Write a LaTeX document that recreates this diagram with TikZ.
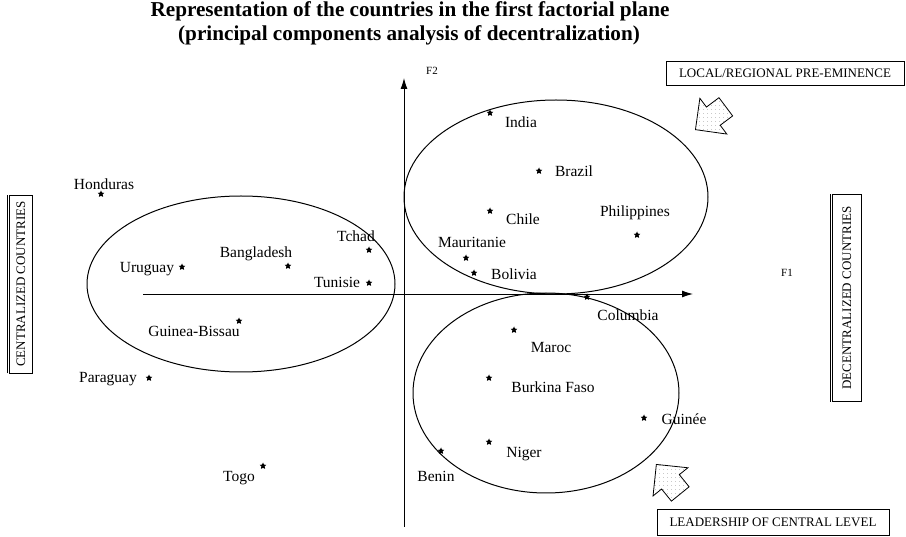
\documentclass[tikz,border=0pt]{standalone}
\usepackage{fontspec}
\setmainfont{Liberation Serif}
\usetikzlibrary{arrows.meta, shapes.geometric, shapes.arrows, patterns.meta}

\begin{document}
\begin{tikzpicture}[x=1pt, y=-1pt, font=\fontsize{15.5}{17}\selectfont,
	ctry/.style={star, star points=5, star point ratio=2, fill=black, inner sep=0pt, minimum size=7pt},
	lbl/.style={anchor=base, inner sep=0pt},
	heading/.style={anchor=base, inner sep=0pt, font=\bfseries\fontsize{21.2}{24}\selectfont},
	caption/.style={draw, line width=.8pt, inner sep=0pt, font=\fontsize{13}{15}\selectfont},
	hollow/.style={single arrow, draw, line width=.8pt, minimum height=38pt, inner xsep=0pt, inner ysep=11pt, single arrow head extend=11pt, pattern={Dots[distance=4pt, radius=.4pt]}, pattern color=gray, anchor=tip},
	cluster/.style={draw, ellipse, line width=1pt, inner sep=0pt}]
	\useasboundingbox (0,0) rectangle (906,537);
	\node[heading] (title) at (410,17) {Representation of the countries in the first factorial plane};
	\node[heading] (subtitle) at (409,41) {(principal components analysis of decentralization)};
	\coordinate (xlo) at (143,294);
	\coordinate (xhi) at (693,294);
	\coordinate (ylo) at (404,527);
	\coordinate (yhi) at (404,78);
	\draw[line width=.9pt, -{Latex[length=11pt, width=7pt]}] (xlo) -- (xhi);
	\draw[line width=.9pt, -{Latex[length=11pt, width=7pt]}] (ylo) -- (yhi);
	\node[lbl, font=\fontsize{11}{13}\selectfont] (f2) at (432,75) {F2};
	\node[lbl, font=\fontsize{11}{13}\selectfont] (f1) at (787,277) {F1};
	\node[cluster, minimum width=304pt, minimum height=194pt] (upgrp) at (556,197) {};
	\node[cluster, minimum width=266pt, minimum height=200pt] (lowgrp) at (546,393) {};
	\node[cluster, minimum width=308pt, minimum height=176pt] (centgrp) at (241,284) {};
	\node[caption, minimum width=238pt, minimum height=24pt] (localbox) at (785,73) {LOCAL/REGIONAL PRE-EMINENCE};
	\node[caption, minimum width=232pt, minimum height=26pt] (leadbox) at (773,522) {LEADERSHIP OF CENTRAL LEVEL};
	\node[caption, rotate=90, minimum width=178pt, minimum height=23pt] (centbox) at (21,284) {CENTRALIZED COUNTRIES};
	\node[caption, rotate=90, minimum width=207pt, minimum height=29pt] (decbox) at (847,298) {DECENTRALIZED COUNTRIES};
	\draw[line width=1pt] ([xshift=-2pt]centbox.north west) -- ([xshift=-2pt]centbox.north east);
	\draw[line width=1pt] ([xshift=-2pt]decbox.north west) -- ([xshift=-2pt]decbox.north east);
	\node[hollow, rotate=217] (arrtop) at (695,130) {};
	\node[hollow, rotate=129] (arrbot) at (656,464) {};
	\node[ctry] (hon) at (101,194) {};
	\node[lbl] (honL) at (104,190) {Honduras};
	\node[ctry] (uru) at (182,267) {};
	\node[lbl] (uruL) at (147,273) {Uruguay};
	\node[ctry] (ban) at (288,266) {};
	\node[lbl] (banL) at (256,258) {Bangladesh};
	\node[ctry] (tch) at (369,250) {};
	\node[lbl] (tchL) at (356,242) {Tchad};
	\node[ctry] (tun) at (369,283) {};
	\node[lbl] (tunL) at (337,288) {Tunisie};
	\node[ctry] (gbi) at (239,321) {};
	\node[lbl] (gbiL) at (194,337) {Guinea-Bissau};
	\node[ctry] (par) at (149,378) {};
	\node[lbl] (parL) at (108,383) {Paraguay};
	\node[ctry] (tog) at (263,466) {};
	\node[lbl] (togL) at (239,482) {Togo};
	\node[ctry] (ind) at (490,113) {};
	\node[lbl] (indL) at (521,128) {India};
	\node[ctry] (bra) at (539,171) {};
	\node[lbl] (braL) at (574,177) {Brazil};
	\node[ctry] (chi) at (490,211) {};
	\node[lbl] (chiL) at (523,225) {Chile};
	\node[ctry] (phi) at (637,235) {};
	\node[lbl] (phiL) at (635,217) {Philippines};
	\node[ctry] (mau) at (466,258) {};
	\node[lbl] (mauL) at (472,248) {Mauritanie};
	\node[ctry] (bol) at (474,273) {};
	\node[lbl] (bolL) at (514,280) {Bolivia};
	\node[ctry] (col) at (587,297) {};
	\node[lbl] (colL) at (628,321) {Columbia};
	\node[ctry] (mar) at (514,330) {};
	\node[lbl] (marL) at (551,353) {Maroc};
	\node[ctry] (bur) at (489,378) {};
	\node[lbl] (burL) at (553,393) {Burkina Faso};
	\node[ctry] (gui) at (644,418) {};
	\node[lbl] (guiL) at (684,425) {Guinée};
	\node[ctry] (nig) at (489,442) {};
	\node[lbl] (nigL) at (524,458) {Niger};
	\node[ctry] (ben) at (441,451) {};
	\node[lbl] (benL) at (436,482) {Benin};
\end{tikzpicture}
\end{document}
